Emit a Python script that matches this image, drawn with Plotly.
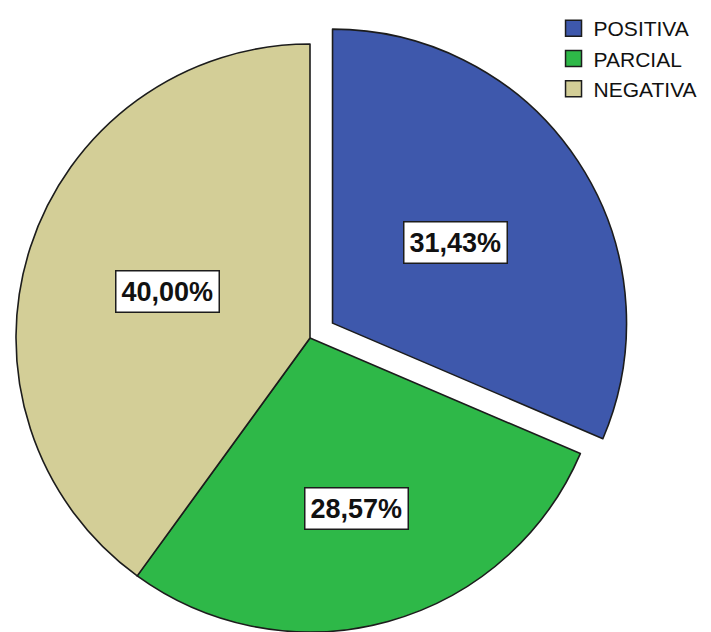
import math
import plotly.graph_objects as go

# ---- data ----
categories = ["POSITIVA", "PARCIAL", "NEGATIVA"]
percentages = [31.43, 28.57, 40.00]
value_labels = ["31,43%", "28,57%", "40,00%"]

# ---- style ----
colors = ["#3E58AC", "#2EB848", "#D3CE97"]
edge = "#1c1c1c"
W, H = 703, 624                     # page body has an 8px margin
cx, cy, R = 302, 330, 294           # main pie centre / radius (px, figure coords)
pull_px = 27                        # offset of the exploded slice (px)
label_r = [0.5, 0.6, 0.51]          # radial position of value labels

def domain(cxp, cyp, r):
    return dict(x=[max(0, (cxp - r) / W), min(1, (cxp + r) / W)],
                y=[max(0, 1 - (cyp + r) / H), min(1, 1 - (cyp - r) / H)])

total = sum(percentages)
mids = []
acc = 0.0
for v in percentages:
    mids.append(math.radians((acc + v / 2) / total * 360))
    acc += v

# exploded slice offset along its bisector
ex = pull_px * math.sin(mids[0])
ey = -pull_px * math.cos(mids[0])

fig = go.Figure()

# main pie with first slice hidden
fig.add_trace(go.Pie(
    labels=categories, values=percentages, sort=False, direction="clockwise",
    marker=dict(colors=["rgba(0,0,0,0)"] + colors[1:],
                line=dict(color=edge, width=[0, 1.6, 1.6])),
    textinfo="none", hoverinfo="label+percent", showlegend=False,
    domain=domain(cx, cy, R),
))

# exploded slice
fig.add_trace(go.Pie(
    labels=[categories[0], " "], values=[percentages[0], total - percentages[0]],
    sort=False, direction="clockwise",
    marker=dict(colors=[colors[0], "rgba(0,0,0,0)"],
                line=dict(color=edge, width=[1.6, 0])),
    textinfo="none", hoverinfo="skip", showlegend=False,
    domain=domain(cx + ex, cy + ey, R),
))

# legend entries
for name, col in zip(categories, colors):
    fig.add_trace(go.Scatter(
        x=[None], y=[None], mode="markers", name=name,
        marker=dict(symbol="square", size=16, color=col,
                    line=dict(color=edge, width=1.5)),
    ))

# value labels in boxes
annotations = []
for i, txt in enumerate(value_labels):
    ocx = cx + (ex if i == 0 else 0)
    ocy = cy + (ey if i == 0 else 0)
    px = ocx + label_r[i] * R * math.sin(mids[i])
    py = ocy - label_r[i] * R * math.cos(mids[i])
    annotations.append(dict(
        x=px / W, y=1 - py / H, xref="paper", yref="paper", text=txt,
        xanchor="center", yanchor="middle", showarrow=False,
        font=dict(family="Liberation Sans Narrow, Liberation Sans, Arial",
                  size=27, color="#111111", weight="bold"),
        bgcolor="white", bordercolor=edge, borderwidth=1.5, borderpad=5,
    ))

fig.update_layout(
    width=W, height=H,
    margin=dict(l=0, r=0, t=0, b=0),
    paper_bgcolor="white", plot_bgcolor="white",
    xaxis=dict(visible=False), yaxis=dict(visible=False),
    showlegend=True,
    legend=dict(x=0.776, y=1.0, xanchor="left", yanchor="top",
                bgcolor="rgba(0,0,0,0)", tracegroupgap=0,
                font=dict(family="Arial, Liberation Sans", size=21, color="#111111"),
                itemsizing="trace"),
    annotations=annotations,
)

fig.write_html("out.html")
